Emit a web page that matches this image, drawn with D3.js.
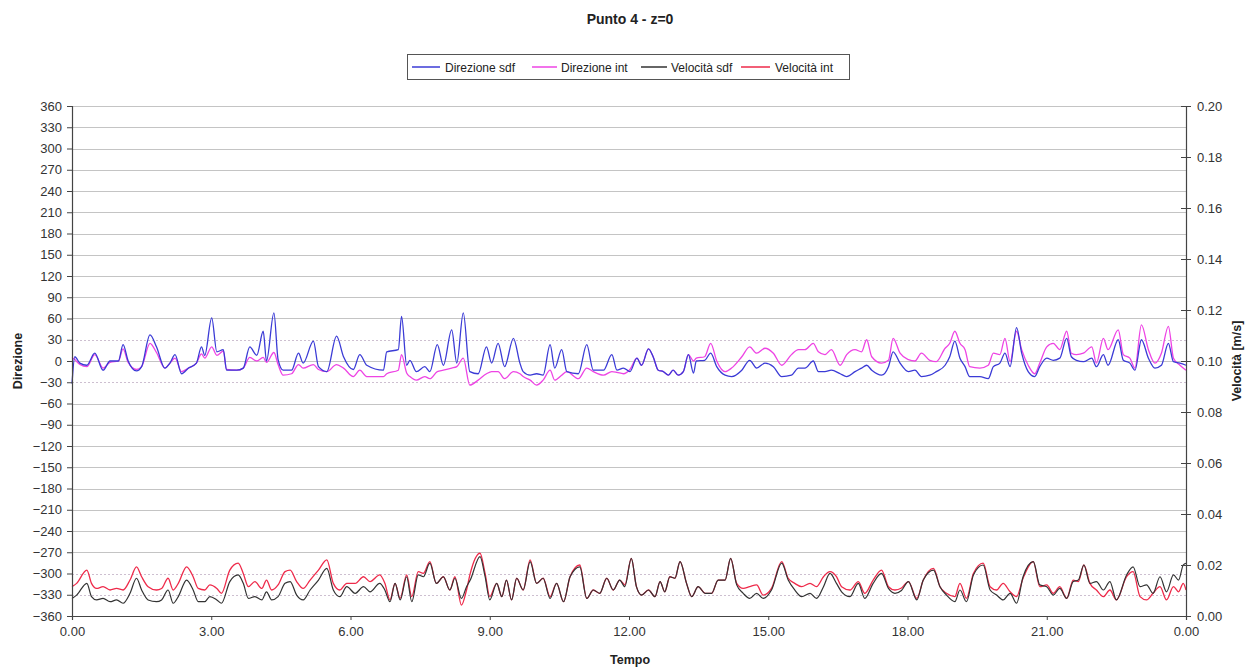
<!DOCTYPE html>
<html>
<head>
<meta charset="utf-8">
<script src="https://cdn.jsdelivr.net/npm/d3@7"></script>
<style>
  html, body { margin: 0; padding: 0; background: #fff; }
  svg { display: block; }
</style>
</head>
<body>
<svg id="chart" width="1248" height="671"></svg>
<script>
// ---------------- DATA ----------------
const seriesNames = ["Direzione sdf", "Direzione int", "Velocità sdf", "Velocità int"];
const xTicks = [0, 3, 6, 9, 12, 15, 18, 21, 24];
const leftTicks = d3.range(-360, 361, 30);
const rightTicks = [0, 0.02, 0.04, 0.06, 0.08, 0.10, 0.12, 0.14, 0.16, 0.18, 0.20];

// time (hours) for the direction series
const tempoDir = [
  0.00,0.06,0.17,0.32,0.49,0.67,0.82,1.00,1.10,1.21,
  1.39,1.50,1.68,1.82,2.00,2.11,2.22,2.36,2.51,2.68,
  2.79,2.86,3.01,3.12,3.26,3.33,3.55,3.69,3.83,3.98,
  4.12,4.19,4.35,4.44,4.55,4.73,4.88,4.98,5.20,5.31,
  5.49,5.70,5.85,6.06,6.20,6.35,6.71,6.78,7.03,7.10,
  7.21,7.28,7.42,7.60,7.71,7.87,8.00,8.18,8.29,8.43,
  8.57,8.75,8.93,9.04,9.18,9.32,9.51,9.65,9.72,9.87,
  10.01,10.15,10.30,10.40,10.55,10.66,10.91,11.09,11.23,11.45,
  11.63,11.74,11.88,12.02,12.17,12.27,12.42,12.52,12.63,12.74,
  12.85,12.95,13.06,13.17,13.28,13.39,13.45,13.63,13.76,13.89,
  14.07,14.21,14.43,14.60,14.75,14.93,15.11,15.29,15.50,15.65,
  15.79,15.97,16.08,16.22,16.36,16.55,16.69,16.87,17.01,17.12,
  17.23,17.44,17.59,17.69,17.84,18.02,18.16,18.30,18.48,18.62,
  18.81,18.91,19.02,19.13,19.24,19.34,19.56,19.74,19.85,19.99,
  20.10,20.21,20.35,20.46,20.60,20.74,20.85,21.00,21.14,21.28,
  21.43,21.53,21.64,21.79,21.97,22.07,22.22,22.32,22.54,22.65,
  22.79,22.90,23.04,23.19,23.33,23.47,23.62,23.73,23.87,24.00
];
// Direzione sdf (degrees)
const direzioneSdf = [
  -32,6,-3,-6,11,-13,0,0,23,0,
  -14,-8,37,20,-10,-3,9,-18,-10,-3,
  20,8,61,13,16,-13,-13,-10,20,8,
  42,0,68,2,-13,-13,11,-3,28,-8,
  -15,35,6,-12,9,-6,-13,13,16,63,
  -6,1,-15,-8,-15,23,-6,44,-3,68,
  -15,-18,20,-3,25,-8,32,-3,-15,-20,
  -18,-20,23,-10,16,-15,-18,23,-13,-13,
  9,-13,-10,-15,4,-6,17,6,-13,-15,
  -20,-13,-20,-15,9,-17,0,1,11,-8,
  -20,-22,-13,1,-10,-3,-8,-22,-20,-10,
  -10,0,-15,-15,-13,-18,-22,-15,-10,-6,
  -13,-20,-8,13,-3,-15,-13,-22,-20,-15,
  -6,6,28,4,-8,-22,-22,-25,-8,-3,
  11,-8,47,11,-15,-22,-8,4,1,4,
  32,6,1,-1,4,-8,9,-6,30,1,
  -3,-13,30,4,-10,-6,25,-1,-3,-6
];
// Direzione int (degrees)
const direzioneInt = [
  5,2,-5,-8,9,-10,-2,0,17,-2,
  -12,-8,25,12,-10,-3,4,-15,-10,-3,
  10,4,20,8,14,-12,-13,-10,5,0,
  5,-2,12,-5,-20,-18,-5,-10,-5,-12,
  -15,-5,-10,-22,-13,-22,-22,-18,-13,9,
  -17,-22,-27,-22,-25,-15,-13,-10,-8,4,
  -34,-27,-18,-15,-15,-25,-15,-18,-22,-27,
  -34,-27,-13,-27,-20,-15,-25,-10,-15,-20,
  -15,-16,-18,-12,4,-6,17,6,-13,-15,
  -20,-13,-20,-15,9,0,4,6,25,0,
  -15,-10,6,20,11,18,11,-6,9,16,
  16,25,13,9,16,-6,9,16,13,30,
  6,-3,1,32,11,2,0,11,1,-1,
  18,25,42,25,16,-8,-10,-6,11,9,
  32,-1,42,16,-6,-18,-3,20,25,16,
  42,11,9,11,20,-3,32,16,44,9,
  4,-10,51,16,-3,11,49,4,-6,-13
];

// time (hours) for the velocity series
const tempoVel = [
  0.00,0.10,0.32,0.42,0.53,0.67,0.82,0.96,1.10,1.25,
  1.39,1.50,1.64,1.82,1.93,2.07,2.18,2.29,2.47,2.61,
  2.72,2.86,2.97,3.12,3.22,3.40,3.58,3.69,3.80,3.94,
  4.09,4.19,4.30,4.44,4.59,4.70,4.84,4.98,5.13,5.31,
  5.49,5.63,5.77,5.92,6.10,6.28,6.42,6.63,6.74,6.85,
  6.96,7.07,7.21,7.32,7.46,7.57,7.71,7.85,8.00,8.14,
  8.25,8.39,8.50,8.58,8.79,8.90,9.00,9.15,9.26,9.36,
  9.47,9.58,9.72,9.87,10.01,10.15,10.30,10.44,10.59,10.73,
  10.94,11.09,11.23,11.37,11.52,11.66,11.80,11.91,12.05,12.16,
  12.27,12.42,12.56,12.67,12.77,12.88,12.99,13.10,13.24,13.35,
  13.49,13.64,13.78,13.92,14.07,14.19,14.32,14.46,14.60,14.75,
  14.89,15.07,15.29,15.43,15.57,15.72,15.90,16.04,16.19,16.33,
  16.47,16.58,16.76,16.94,17.08,17.26,17.44,17.59,17.73,17.87,
  18.02,18.20,18.34,18.56,18.70,18.84,19.02,19.13,19.27,19.42,
  19.63,19.78,19.92,20.06,20.21,20.35,20.49,20.71,20.85,21.00,
  21.14,21.28,21.43,21.57,21.68,21.80,21.93,22.07,22.22,22.36,
  22.50,22.72,22.86,23.01,23.15,23.29,23.44,23.58,23.73,23.84,
  23.94,24.00
];
// Velocità sdf (m/s)
const velocitaSdf = [
  .0069,.0082,.0128,.0076,.0063,.0069,.0056,.0063,.0050,.0089,
  .0148,.0102,.0063,.0056,.0063,.0102,.0050,.0076,.0141,.0102,
  .0056,.0056,.0076,.0063,.0050,.0135,.0161,.0128,.0069,.0076,
  .0063,.0095,.0063,.0076,.0128,.0135,.0082,.0063,.0102,.0141,
  .0187,.0102,.0076,.0115,.0089,.0115,.0095,.0128,.0102,.0056,
  .0128,.0063,.0154,.0056,.0161,.0154,.0207,.0128,.0154,.0102,
  .0148,.0069,.0115,.0141,.0233,.0154,.0063,.0128,.0076,.0141,
  .0063,.0148,.0102,.0213,.0128,.0148,.0069,.0128,.0056,.0154,
  .0193,.0069,.0102,.0089,.0148,.0102,.0141,.0115,.0226,.0115,
  .0082,.0102,.0076,.0135,.0095,.0154,.0148,.0213,.0128,.0076,
  .0115,.0089,.0089,.0141,.0141,.0226,.0122,.0089,.0069,.0089,
  .0069,.0102,.0207,.0141,.0102,.0076,.0089,.0069,.0115,.0167,
  .0128,.0095,.0076,.0128,.0069,.0128,.0167,.0108,.0089,.0100,
  .0135,.0063,.0141,.0180,.0115,.0082,.0056,.0102,.0056,.0161,
  .0200,.0102,.0082,.0063,.0089,.0050,.0154,.0213,.0122,.0115,
  .0082,.0108,.0069,.0135,.0141,.0200,.0128,.0135,.0102,.0135,
  .0063,.0161,.0193,.0115,.0122,.0089,.0154,.0095,.0161,.0141,
  .0200,.0207
];
// Velocità int (m/s)
const velocitaInt = [
  .0115,.0128,.0180,.0128,.0108,.0115,.0102,.0108,.0102,.0141,
  .0193,.0154,.0115,.0102,.0108,.0148,.0102,.0128,.0193,.0154,
  .0108,.0102,.0122,.0108,.0089,.0180,.0207,.0167,.0115,.0135,
  .0108,.0141,.0102,.0122,.0174,.0180,.0135,.0108,.0141,.0180,
  .0220,.0128,.0102,.0128,.0128,.0154,.0135,.0161,.0128,.0063,
  .0128,.0069,.0161,.0076,.0174,.0167,.0213,.0128,.0154,.0102,
  .0154,.0043,.0102,.0167,.0246,.0167,.0076,.0128,.0076,.0141,
  .0063,.0148,.0102,.0220,.0128,.0148,.0076,.0128,.0056,.0154,
  .0200,.0069,.0102,.0089,.0148,.0102,.0141,.0122,.0226,.0115,
  .0082,.0102,.0076,.0135,.0095,.0154,.0148,.0213,.0128,.0076,
  .0115,.0089,.0089,.0141,.0141,.0226,.0128,.0108,.0115,.0122,
  .0082,.0108,.0213,.0148,.0128,.0115,.0128,.0115,.0154,.0174,
  .0154,.0115,.0102,.0135,.0089,.0141,.0180,.0115,.0102,.0110,
  .0135,.0069,.0141,.0187,.0115,.0089,.0076,.0128,.0069,.0167,
  .0207,.0115,.0102,.0128,.0095,.0076,.0148,.0213,.0115,.0122,
  .0089,.0115,.0069,.0141,.0135,.0200,.0128,.0102,.0076,.0102,
  .0063,.0154,.0174,.0076,.0063,.0089,.0115,.0063,.0115,.0095,
  .0128,.0102
];

// ---------------- STYLE ----------------
const colors = {
  dirSdf: "#3b3bd6",
  dirInt: "#ee44e4",
  velSdf: "#333333",
  velInt: "#ee2a4a"
};
const FONT = "'Liberation Sans', Arial, sans-serif";
const fs = { tick: 13, legend: 12, title: 14, axisT: 12.5 };

// ---------------- LAYOUT ----------------
const svg = d3.select("#chart");
const X0 = 72, X1 = 1186, Y0 = 106, Y1 = 616;

const x = d3.scaleLinear().domain([0, 24]).range([X0, X1]);
const yL = d3.scaleLinear().domain([-360, 360]).range([Y1, Y0]);
const yR = d3.scaleLinear().domain([0, 0.2]).range([Y1, Y0]);

// gridlines
const dotted = new Set([30, -30, -300, -330]);
svg.append("g").selectAll("line")
  .data(leftTicks.filter(d => d > -360))
  .join("line")
  .attr("x1", X0).attr("x2", X1)
  .attr("y1", d => Math.round(yL(d)) + 0.5).attr("y2", d => Math.round(yL(d)) + 0.5)
  .attr("stroke", d => dotted.has(d) ? "#cdbfd0" : "#c4c4c4")
  .attr("stroke-dasharray", d => dotted.has(d) ? "2,2" : null)
  .attr("stroke-width", 1);

// lines
const curve = d3.curveMonotoneX;
const lineDir = (vals) => d3.line().curve(curve).x((d, i) => x(tempoDir[i])).y(d => yL(d))(vals);
const lineVel = (vals) => d3.line().curve(curve).x((d, i) => x(tempoVel[i])).y(d => yR(d))(vals);

const plot = svg.append("g");
plot.append("path").attr("d", lineVel(velocitaInt)).attr("fill", "none").attr("stroke", colors.velInt).attr("stroke-width", 1.3);
plot.append("path").attr("d", lineVel(velocitaSdf)).attr("fill", "none").attr("stroke", colors.velSdf).attr("stroke-width", 1.2);
plot.append("path").attr("d", lineDir(direzioneInt)).attr("fill", "none").attr("stroke", colors.dirInt).attr("stroke-width", 1.3);
plot.append("path").attr("d", lineDir(direzioneSdf)).attr("fill", "none").attr("stroke", colors.dirSdf).attr("stroke-width", 1.3);

// axes
function styleAxis(g) {
  g.selectAll(".domain").attr("stroke", "#444").attr("stroke-width", 1.2);
  g.selectAll(".tick line").attr("stroke", "#444");
  g.selectAll("text").attr("fill", "#333").style("font-family", FONT).style("font-size", fs.tick + "px");
}

const gLeft = svg.append("g").attr("transform", `translate(${X0},0)`)
  .call(d3.axisLeft(yL).tickValues(leftTicks).tickFormat(d3.format("d")).tickSizeOuter(0).tickSize(5).tickPadding(5));
styleAxis(gLeft);

const gRight = svg.append("g").attr("transform", `translate(${X1},0)`)
  .call(d3.axisRight(yR).tickValues(rightTicks).tickFormat(d3.format(".2f")).tickSizeOuter(0).tickSize(5).tickPadding(6));
gRight.selectAll(".tick line").attr("x1", -5);
styleAxis(gRight);

const gBottom = svg.append("g").attr("transform", `translate(0,${Y1})`)
  .call(d3.axisBottom(x).tickValues(xTicks).tickFormat(d => d3.format(".2f")(d % 24)).tickSizeOuter(0).tickSize(4).tickPadding(7));
styleAxis(gBottom);

// titles
svg.append("text").attr("x", 630).attr("y", 24).attr("text-anchor", "middle")
  .style("font-family", FONT).style("font-size", fs.title + "px").style("font-weight", "bold").attr("fill", "#222")
  .text("Punto 4 - z=0");

svg.append("text").attr("x", 630).attr("y", 664).attr("text-anchor", "middle")
  .style("font-family", FONT).style("font-size", fs.axisT + "px").style("font-weight", "bold").attr("fill", "#222")
  .text("Tempo");

svg.append("text").attr("transform", `translate(22,${(Y0 + Y1) / 2}) rotate(-90)`).attr("text-anchor", "middle")
  .style("font-family", FONT).style("font-size", fs.axisT + "px").style("font-weight", "bold").attr("fill", "#222")
  .text("Direzione");

svg.append("text").attr("transform", `translate(1241,${(Y0 + Y1) / 2}) rotate(-90)`).attr("text-anchor", "middle")
  .style("font-family", FONT).style("font-size", fs.axisT + "px").style("font-weight", "bold").attr("fill", "#222")
  .text("Velocità [m/s]");

// legend
const legend = svg.append("g");
legend.append("rect").attr("x", 407.5).attr("y", 54.5).attr("width", 442).attr("height", 25)
  .attr("fill", "#fff").attr("stroke", "#555").attr("stroke-width", 1);
const legendItems = [
  { name: seriesNames[0], color: colors.dirSdf, lx: 412, lw: 28, tx: 445 },
  { name: seriesNames[1], color: colors.dirInt, lx: 532, lw: 25, tx: 561 },
  { name: seriesNames[2], color: colors.velSdf, lx: 641, lw: 26, tx: 671 },
  { name: seriesNames[3], color: colors.velInt, lx: 741, lw: 29, tx: 775 }
];
const li = legend.selectAll("g.item").data(legendItems).join("g").attr("class", "item");
li.append("line").attr("x1", d => d.lx).attr("x2", d => d.lx + d.lw).attr("y1", 67).attr("y2", 67)
  .attr("stroke", d => d.color).attr("stroke-width", 1.5);
li.append("text").attr("x", d => d.tx).attr("y", 71.5)
  .style("font-family", FONT).style("font-size", fs.legend + "px").attr("fill", "#222")
  .text(d => d.name);
</script>
</body>
</html>
